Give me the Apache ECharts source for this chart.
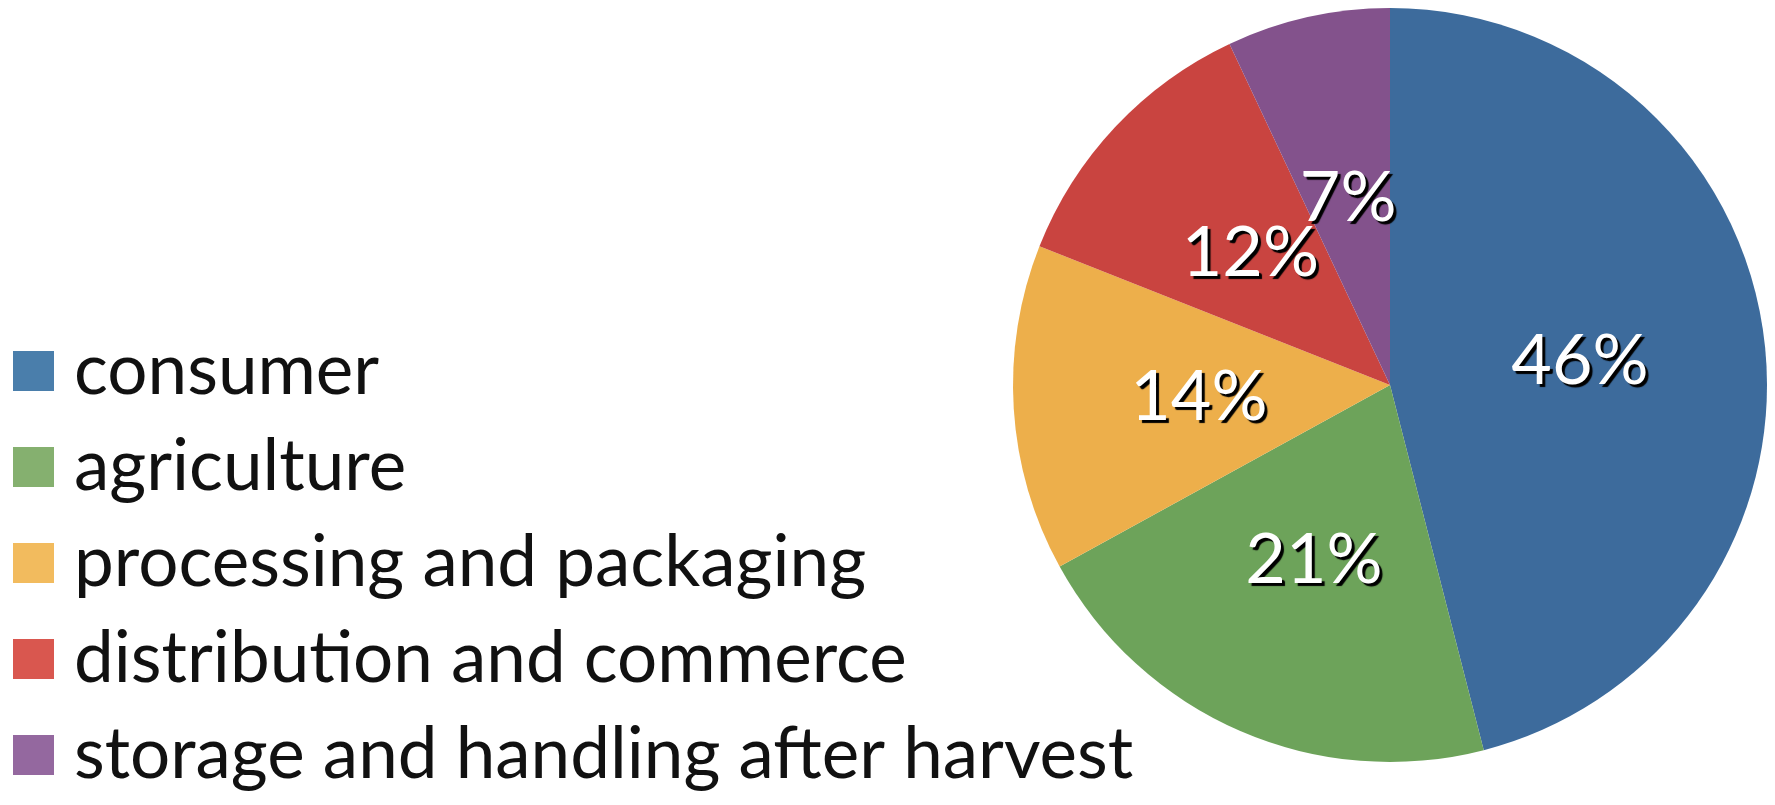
<!DOCTYPE html>
<html>
<head>
<meta charset="utf-8">
<script src="https://cdn.jsdelivr.net/npm/echarts@6/dist/echarts.min.js"></script>
<style>
    html, body {margin: 0; padding: 0; background: #fff;}
    #chart {width: 1775px; height: 805px;}
</style>
</head>
<body>
<div id="chart"></div>
<script>
const categories = ['consumer', 'agriculture', 'processing and packaging', 'distribution and commerce', 'storage and handling after harvest'];
const shares = [46, 21, 14, 12, 7];
const sliceColors = ['#3d6b9c', '#6da35a', '#edaf4b', '#c94440', '#83528c'];
const legendColors = ['#4a7eab', '#85b06f', '#f2bb5e', '#d9574f', '#94689f'];

const chart = echarts.init(document.getElementById('chart'));
const option = {
    animation: false,
    legend: {
        orient: 'vertical',
        left: 13,
        top: 331,
        padding: 0,
        icon: 'rect',
        itemWidth: 41,
        itemHeight: 40,
        itemGap: 16,
        selectedMode: false,
        textStyle: {
            fontFamily: 'Lato',
            fontSize: 71,
            lineHeight: 80,
            color: '#111',
            padding: [0, 0, 0, 15]
        },
        data: categories.map((name, i) => ({name: name, itemStyle: {color: legendColors[i]}}))
    },
    series: [
        {
            type: 'pie',
            center: [1390, 385],
            radius: 377,
            startAngle: 90,
            clockwise: true,
            avoidLabelOverlap: false,
            data: categories.map((name, i) => ({
                name: name,
                value: shares[i],
                itemStyle: {color: sliceColors[i]}
            })),
            label: {
                show: true,
                position: 'inside',
                formatter: '{c}%',
                fontFamily: 'Lato',
                fontSize: 70,
                color: '#fff',
                textShadowColor: '#000',
                textShadowBlur: 1,
                textShadowOffsetX: 3,
                textShadowOffsetY: 3
            },
            labelLayout: {hideOverlap: false},
            labelLine: {show: false},
            emphasis: {disabled: true}
        }
    ]
};
chart.setOption(option);
</script>
</body>
</html>
